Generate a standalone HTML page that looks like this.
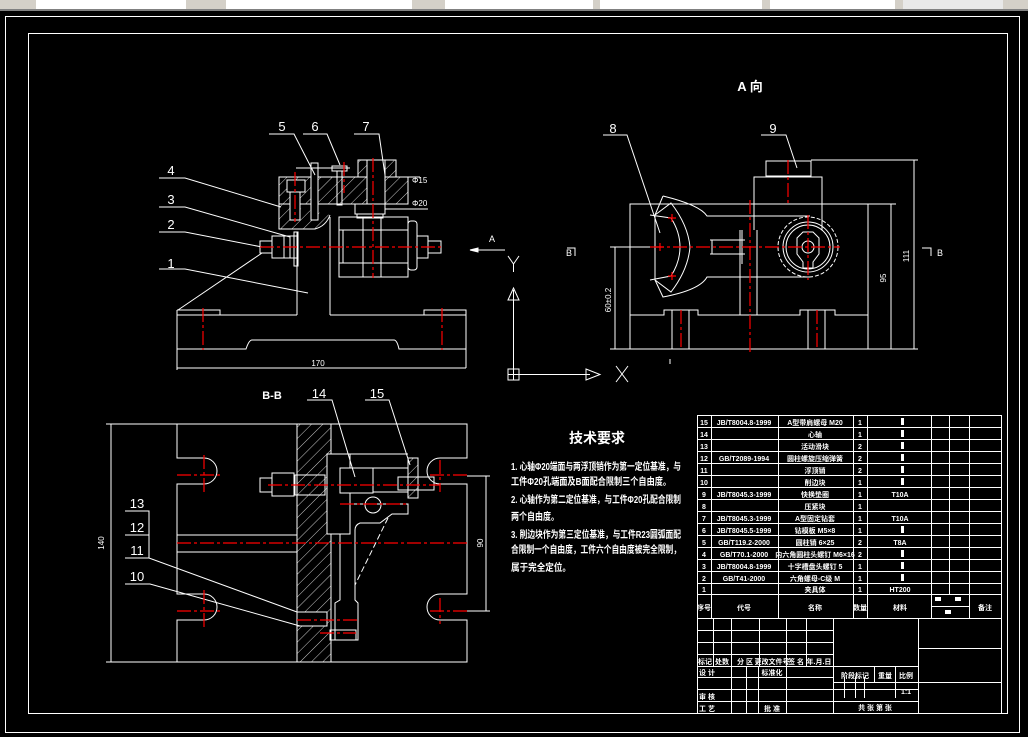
<!DOCTYPE html>
<html><head><meta charset="utf-8"><style>
html,body{margin:0;padding:0;background:#000;width:1028px;height:737px;overflow:hidden}
svg{display:block}
text{font-family:"Liberation Sans","Noto Sans CJK SC",sans-serif;fill:#fff}
</style></head><body>
<svg width="1028" height="737" viewBox="0 0 1028 737" xmlns="http://www.w3.org/2000/svg">
<defs>
<pattern id="h" width="8" height="8" patternUnits="userSpaceOnUse" patternTransform="rotate(45)"><line x1="0" y1="0" x2="0" y2="8" stroke="#fff" stroke-width="0.8"/></pattern>
</defs>
<!-- toolbar -->
<rect x="0" y="0" width="1028" height="11" fill="#d4d0c8"/>
<rect x="0" y="9" width="1028" height="2" fill="#808080"/>
<rect x="36" y="0" width="150" height="9" fill="#fff"/>
<rect x="226" y="0" width="186" height="9" fill="#fff"/>
<rect x="445" y="0" width="148" height="9" fill="#fff"/>
<rect x="600" y="0" width="162" height="9" fill="#fff"/>
<rect x="770" y="0" width="125" height="9" fill="#fff"/>
<rect x="903" y="0" width="100" height="9" fill="#e8e8e8"/>
<g stroke="#fff" fill="none" stroke-width="1">
<rect x="5.5" y="16.5" width="1014" height="716"/>
<rect x="28.5" y="33.5" width="979" height="680"/>
</g>

<!-- FRONT VIEW -->
<g stroke="#fff" fill="none" stroke-width="1">
<path d="M177 310 H220 V315 M424 315 V310 H466 V368 M177 310 V370"/>
<line x1="177" y1="315" x2="297" y2="315"/><line x1="330" y1="315" x2="466" y2="315"/>
<path d="M177 349 H246 Q249 340 252 340 H394 Q397 340 399 349 H466"/>
<line x1="177" y1="368" x2="466" y2="368"/>
<line x1="297" y1="232" x2="297" y2="315"/><line x1="330" y1="217" x2="330" y2="315"/>
<rect x="279" y="177" width="129" height="27" fill="url(#h)"/>
<path d="M279 204 V229 H315 Q326 226 330 215" fill="url(#h)"/>
<rect x="287" y="180" width="18" height="12" fill="#000"/>
<rect x="290" y="192" width="10" height="28" fill="#000"/>
<rect x="311" y="163" width="7" height="57" fill="#000"/>
<rect x="358" y="160" width="38" height="17" fill="url(#h)"/>
<rect x="367" y="160" width="18" height="44" fill="#000"/>
<rect x="332" y="166" width="15" height="5"/><rect x="337" y="171" width="5" height="34"/>
<rect x="355" y="204" width="30" height="10"/><rect x="357" y="214" width="26" height="4"/>
<rect x="339" y="217" width="69" height="60"/>
<line x1="339" y1="230" x2="408" y2="230"/><line x1="339" y1="263" x2="408" y2="263"/>
<line x1="363" y1="217" x2="363" y2="277"/><line x1="381" y1="217" x2="381" y2="277"/>
<rect x="343" y="230" width="20" height="33"/>
<rect x="408" y="221" width="9" height="49" rx="3"/>
<rect x="417" y="236" width="11" height="22"/><rect x="428" y="241" width="13" height="12"/>
<rect x="272" y="236" width="25" height="22"/><rect x="260" y="241" width="12" height="12"/>
<line x1="284" y1="236" x2="284" y2="258"/><line x1="290" y1="236" x2="290" y2="258"/>
<rect x="294" y="232" width="4" height="34"/>
<!-- dims -->
<line x1="296" y1="168" x2="350" y2="168"/>
<line x1="396" y1="177" x2="420" y2="177"/><line x1="385" y1="209" x2="428" y2="209"/>
<!-- leaders -->
<path d="M269 134 H294 L315 175"/><path d="M303 134 H327 L340 165"/><path d="M354 134 H379 L385 175"/>
<path d="M159 178 H185 L281 207"/><path d="M159 207 H185 L290 237"/><path d="M159 232 H185 L262 247"/><path d="M159 269 H185 L308 293"/>
<line x1="178" y1="310" x2="262" y2="253"/>
</g>
<g stroke="#f00" stroke-width="1.2" stroke-dasharray="14 3 3 3">
<line x1="260" y1="247" x2="444" y2="247"/>
<line x1="203" y1="308" x2="203" y2="350"/><line x1="442" y1="308" x2="442" y2="350"/>
<line x1="373" y1="158" x2="373" y2="278"/><line x1="295" y1="172" x2="295" y2="222"/>
<line x1="344" y1="162" x2="344" y2="193"/>
</g>
<g font-size="13" text-anchor="middle">
<text x="282" y="131">5</text><text x="315" y="131">6</text><text x="366" y="131">7</text>
<text x="171" y="175">4</text><text x="171" y="204">3</text><text x="171" y="229">2</text><text x="171" y="268">1</text>
</g>
<text x="318" y="366" font-size="8" text-anchor="middle">170</text>
<text x="412" y="183" font-size="8">Φ15</text><text x="412" y="206" font-size="8">Φ20</text>

<!-- Arrow A + UCS -->
<g stroke="#fff" fill="none">
<line x1="470" y1="250" x2="505" y2="250"/><path d="M470 250 l8 -2 v4 z" fill="#fff"/>
<line x1="513.5" y1="290" x2="513.5" y2="378"/><path d="M508 300 L513.5 288 L519 300 Z"/>
<line x1="513" y1="374.5" x2="590" y2="374.5"/><path d="M586 369 L600 374.5 L586 380 Z"/>
<rect x="508" y="369" width="11" height="11"/><line x1="508" y1="374.5" x2="519" y2="374.5"/><line x1="513.5" y1="369" x2="513.5" y2="380"/>
<path d="M508 256 L513.5 264 L519 256 M513.5 264 V272"/>
<path d="M616 366 L628 382 M628 366 L616 382"/>
</g>
<text x="492" y="242" font-size="9" text-anchor="middle">A</text>

<!-- A VIEW -->
<text x="750" y="91" font-size="13" text-anchor="middle" font-weight="bold">A 向</text>
<g stroke="#fff" fill="none" stroke-width="1">
<rect x="630" y="204" width="238" height="145"/>
<line x1="868" y1="204" x2="896" y2="204"/>
<path d="M630 315 H664 V310 H698 V315 H800 V310 H835 V315 H868"/>
<line x1="672" y1="310" x2="672" y2="349"/><line x1="689" y1="310" x2="689" y2="349"/>
<line x1="808" y1="310" x2="808" y2="349"/><line x1="825" y1="310" x2="825" y2="349"/>
<rect x="754" y="177" width="68" height="27"/><rect x="766" y="161" width="45" height="15"/>
<line x1="754" y1="204" x2="754" y2="230"/><line x1="822" y1="204" x2="822" y2="230"/>
<path d="M663 196 L655 215 V280 L663 297 Q700 290 707 277 H810 M663 196 Q700 205 707 216 H810"/>
<path d="M655 215 L671 203 Q688 225 690 247 Q688 270 671 292 L655 280"/>
<path d="M650 215 L671 218 Q680 232 680 247 Q680 262 671 276 L650 280" />
<line x1="740" y1="230" x2="740" y2="315"/><line x1="757" y1="230" x2="757" y2="315"/>
<path d="M710 240 H745 M710 254 H745 M712 240 V254 M742 230 V264"/>
<circle cx="808" cy="247" r="30" stroke-dasharray="4 2"/>
<circle cx="808" cy="247" r="25"/><circle cx="808" cy="247" r="22"/>
<path d="M797 238 L803 232 H813 L819 238 V254 L813 262 V268 H803 V262 L797 254 Z"/>
<circle cx="808" cy="247" r="6"/>
<path d="M670 359 V364"/>
<line x1="610" y1="247" x2="655" y2="247"/><line x1="610" y1="349" x2="630" y2="349"/>
<line x1="615" y1="247" x2="615" y2="349"/>
<line x1="868" y1="349" x2="918" y2="349"/><line x1="811" y1="160" x2="918" y2="160"/>
<line x1="914" y1="160" x2="914" y2="349"/><line x1="891" y1="204" x2="891" y2="349"/>
<path d="M603 135 H627 L660 233"/><path d="M761 135 H786 L797 168"/>
<path d="M922 248 H931 V256 M567 248 H575 V256"/>
</g>
<g stroke="#f00" stroke-width="1.2" stroke-dasharray="14 3 3 3">
<line x1="650" y1="247" x2="840" y2="247"/><line x1="808" y1="215" x2="808" y2="280"/>
<line x1="750" y1="200" x2="750" y2="353"/><line x1="788" y1="160" x2="788" y2="204"/>
<line x1="681" y1="310" x2="681" y2="349"/><line x1="817" y1="310" x2="817" y2="349"/>
</g>
<g stroke="#f00" stroke-width="1.2"><path d="M668 218 h8 M672 214 v8 M668 276 h8 M672 272 v8 M656 247 h8 M660 243 v8"/></g>
<g font-size="13" text-anchor="middle"><text x="613" y="133">8</text><text x="773" y="133">9</text></g>
<text x="909" y="256" font-size="8" transform="rotate(-90 909 256)" text-anchor="middle">111</text>
<text x="886" y="278" font-size="8" transform="rotate(-90 886 278)" text-anchor="middle">95</text>
<text x="611" y="300" font-size="8" transform="rotate(-90 611 300)" text-anchor="middle">60±0.2</text>
<text x="937" y="256" font-size="9">B</text><text x="566" y="256" font-size="9">B</text>

<!-- B-B VIEW -->
<text x="272" y="399" font-size="11" text-anchor="middle" font-weight="bold">B-B</text>
<g stroke="#fff" fill="none" stroke-width="1">
<rect x="297" y="424" width="34" height="238" fill="url(#h)"/>
<path d="M106 424 H467 V458 H440 M440 484 H467 V594 H440 M440 620 H467 V662 H106"/>
<path d="M177 424 V458 H204 A13 13 0 0 1 204 484 H177 V594 H204 A13 13 0 0 1 204 620 H177 V662"/>
<path d="M440 458 A13 13 0 0 0 440 484 M440 594 A13 13 0 0 0 440 620"/>
<line x1="111" y1="424" x2="111" y2="662"/>
<line x1="177" y1="535" x2="297" y2="535"/><line x1="177" y1="552" x2="297" y2="552"/>
<rect x="327" y="454" width="23" height="80" fill="#000"/>
<rect x="340" y="468" width="33" height="25" fill="#000"/>
<path d="M340 454 H408 M373 468 H408 M373 492 H408 M340 504 H408 V514 H392 L380 523 H360 Q355 525 355 530 V600 L358 603 V640 H335 V603 L340 600 V534"/>
<rect x="398" y="477" width="36" height="13"/><rect x="408" y="458" width="10" height="40" fill="url(#h)"/>
<rect x="260" y="478" width="12" height="14"/><rect x="272" y="473" width="22" height="23"/>
<rect x="295" y="475" width="30" height="20"/>
<rect x="297" y="612" width="30" height="14" fill="#000"/><rect x="330" y="630" width="26" height="10"/>
<circle cx="373" cy="505" r="8"/>
<line x1="388" y1="518" x2="355" y2="585" stroke-dasharray="6 3"/>
<line x1="467" y1="476" x2="490" y2="476"/><line x1="467" y1="611" x2="490" y2="611"/>
<line x1="486" y1="476" x2="486" y2="611"/>
<path d="M307 400 H332 L355 477"/><path d="M365 400 H389 L410 465"/>
<path d="M125 511 H149 V558 M125 535 H149 M125 558 H149 L297 612"/>
<path d="M125 584 H150 L300 626"/>
</g>
<g stroke="#f00" stroke-width="1.2" stroke-dasharray="14 3 3 3">
<line x1="177" y1="543" x2="467" y2="543"/>
<line x1="177" y1="475" x2="220" y2="475"/><line x1="177" y1="611" x2="220" y2="611"/>
<line x1="204" y1="455" x2="204" y2="495"/><line x1="204" y1="590" x2="204" y2="630"/>
<line x1="430" y1="475" x2="467" y2="475"/><line x1="430" y1="611" x2="467" y2="611"/>
<line x1="440" y1="460" x2="440" y2="492"/><line x1="440" y1="598" x2="440" y2="624"/>
<line x1="268" y1="485" x2="440" y2="485"/><line x1="340" y1="504" x2="408" y2="504"/>
<line x1="297" y1="620" x2="360" y2="620"/><line x1="320" y1="633" x2="356" y2="633"/>
</g>
<g font-size="13" text-anchor="middle">
<text x="319" y="398">14</text><text x="377" y="398">15</text>
<text x="137" y="508">13</text><text x="137" y="532">12</text><text x="137" y="555">11</text><text x="137" y="581">10</text>
</g>
<text x="104" y="543" font-size="8" transform="rotate(-90 104 543)" text-anchor="middle">140</text>
<text x="483" y="543" font-size="8" transform="rotate(-90 483 543)" text-anchor="middle">90</text>

<!-- TECH REQUIREMENTS -->
<text x="597" y="443" font-size="14" text-anchor="middle" font-weight="bold">技术要求</text>
<g font-size="10" font-weight="bold">
<text x="511" y="470" textLength="170" lengthAdjust="spacingAndGlyphs">1. 心轴Φ20端面与两浮顶销作为第一定位基准，与</text>
<text x="511" y="485" textLength="160" lengthAdjust="spacingAndGlyphs">工件Φ20孔端面及B面配合限制三个自由度。</text>
<text x="511" y="503" textLength="170" lengthAdjust="spacingAndGlyphs">2. 心轴作为第二定位基准，与工件Φ20孔配合限制</text>
<text x="511" y="520" textLength="48" lengthAdjust="spacingAndGlyphs">两个自由度。</text>
<text x="511" y="538" textLength="170" lengthAdjust="spacingAndGlyphs">3. 削边块作为第三定位基准，与工件R23圆弧面配</text>
<text x="511" y="553" textLength="170" lengthAdjust="spacingAndGlyphs">合限制一个自由度，工件六个自由度被完全限制，</text>
<text x="511" y="571" textLength="60" lengthAdjust="spacingAndGlyphs">属于完全定位。</text>
</g>

<!-- TABLE -->
<g stroke="#fff" fill="none" stroke-width="1">
<rect x="697.5" y="415.5" width="304" height="298"/>
<path d="M697 427.5H1002M697 439.5H1002M697 451.5H1002M697 463.5H1002M697 475.5H1002M697 487.5H1002M697 499.5H1002M697 511.5H1002M697 523.5H1002M697 535.5H1002M697 547.5H1002M697 559.5H1002M697 571.5H1002M697 583.5H1002M697 594.5H1002M697 618.5H1002"/>
<path d="M711.5 415V618M778.5 415V618M853.5 415V618M867.5 415V618M931.5 415V618M949.5 415V594M969.5 415V618M931 606.5H969"/>
<path d="M697 630.5H833M697 642.5H833M697 654.5H833M697 666.5H918M697 677.5H833M697 689.5H918M697 701.5H918M918 648.5H1002M833 682.5H1002"/>
<path d="M713.5 618V666M731.5 618V713M759.5 618V666M786.5 618V713M806.5 618V666M833.5 618V713M918.5 618V713M746.5 666V713M758.5 666V713"/>
<path d="M874.5 666V682M895.5 666V689M844.5 677V698M855.5 677V698M864.5 677V698M895.5 677V698"/>
</g>
<g font-size="7" font-weight="bold" text-anchor="middle">
<text x="704" y="425">15</text><text x="704" y="437">14</text><text x="704" y="449">13</text><text x="704" y="461">12</text><text x="704" y="473">11</text><text x="704" y="485">10</text><text x="704" y="497">9</text><text x="704" y="509">8</text><text x="704" y="521">7</text><text x="704" y="533">6</text><text x="704" y="545">5</text><text x="704" y="557">4</text><text x="704" y="569">3</text><text x="704" y="581">2</text><text x="704" y="592">1</text>
<text x="744" y="425">JB/T8004.8-1999</text><text x="744" y="461">GB/T2089-1994</text><text x="744" y="497">JB/T8045.3-1999</text><text x="744" y="521">JB/T8045.3-1999</text><text x="744" y="533">JB/T8045.5-1999</text><text x="744" y="545">GB/T119.2-2000</text><text x="744" y="557">GB/T70.1-2000</text><text x="744" y="569">JB/T8004.8-1999</text><text x="744" y="581">GB/T41-2000</text>
<text x="815" y="425">A型带肩螺母 M20</text><text x="815" y="437">心轴</text><text x="815" y="449">活动滑块</text><text x="815" y="461">圆柱螺旋压缩弹簧</text><text x="815" y="473">浮顶销</text><text x="815" y="485">削边块</text><text x="815" y="497">快换垫圈</text><text x="815" y="509">压紧块</text><text x="815" y="521">A型固定钻套</text><text x="815" y="533">钻模板 M5×8</text><text x="815" y="545">圆柱销 6×25</text><text x="815" y="557">内六角圆柱头螺钉 M6×16</text><text x="815" y="569">十字槽盘头螺钉 5</text><text x="815" y="581">六角螺母-C级 M</text><text x="815" y="592">夹具体</text>
<text x="860" y="425">1</text><text x="860" y="437">1</text><text x="860" y="449">2</text><text x="860" y="461">2</text><text x="860" y="473">2</text><text x="860" y="485">1</text><text x="860" y="497">1</text><text x="860" y="509">1</text><text x="860" y="521">1</text><text x="860" y="533">1</text><text x="860" y="545">2</text><text x="860" y="557">2</text><text x="860" y="569">1</text><text x="860" y="581">1</text><text x="860" y="592">1</text>
<text x="900" y="497">T10A</text><text x="900" y="521">T10A</text><text x="900" y="545">T8A</text><text x="900" y="592">HT200</text>
<text x="704" y="610">序号</text><text x="744" y="610">代号</text><text x="815" y="610">名称</text><text x="860" y="610">数量</text><text x="900" y="610">材料</text><text x="985" y="610">备注</text>
<text x="705" y="664">标记</text><text x="722" y="664">处数</text><text x="745" y="664">分 区</text><text x="772" y="664">更改文件号</text><text x="796" y="664">签 名</text><text x="819" y="664">年.月.日</text>
<text x="707" y="675">设 计</text><text x="772" y="675">标准化</text><text x="707" y="699">审 核</text><text x="707" y="711">工 艺</text><text x="772" y="711">批 准</text>
<text x="855" y="678">阶段标记</text><text x="885" y="678">重量</text><text x="906" y="678">比例</text><text x="906" y="694">1:1</text>
<text x="875" y="710">共 张 第 张</text>
</g>
<g fill="#fff"><rect x="901" y="418" width="3" height="7"/><rect x="901" y="430" width="3" height="7"/><rect x="901" y="442" width="3" height="7"/><rect x="901" y="454" width="3" height="7"/><rect x="901" y="466" width="3" height="7"/><rect x="901" y="478" width="3" height="7"/><rect x="901" y="526" width="3" height="7"/><rect x="901" y="550" width="3" height="7"/><rect x="901" y="562" width="3" height="7"/><rect x="901" y="574" width="3" height="7"/><rect x="935" y="597" width="6" height="4"/><rect x="955" y="597" width="6" height="4"/><rect x="945" y="610" width="6" height="4"/></g>
</svg>
</body></html>
